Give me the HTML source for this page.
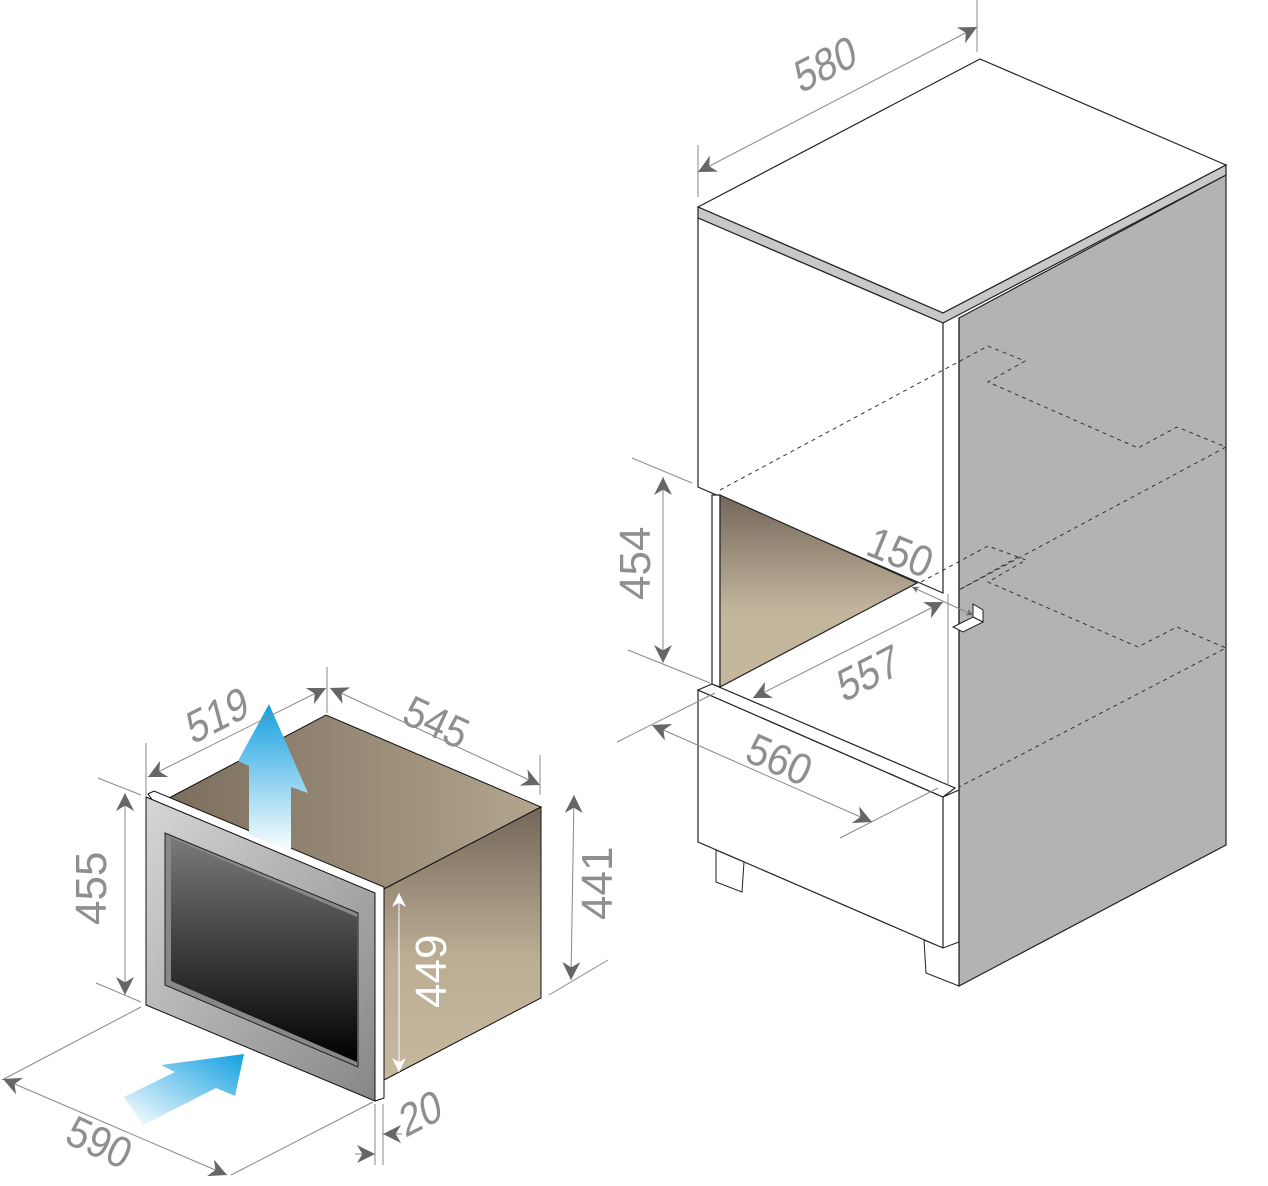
<!DOCTYPE html>
<html><head><meta charset="utf-8"><style>
html,body{margin:0;padding:0;background:#fff}
svg{display:block}
text{font-family:"Liberation Sans",sans-serif;fill:#8f8f8f;font-size:44px}
</style></head><body>
<svg width="1268" height="1186" viewBox="0 0 1268 1186" xmlns="http://www.w3.org/2000/svg">
<defs>
<linearGradient id="topG" x1="0" y1="0" x2="1" y2="0"><stop offset="0" stop-color="#7b6e5c"/><stop offset="1" stop-color="#b3a68f"/></linearGradient>
<linearGradient id="sideG" x1="0" y1="0" x2="0" y2="1"><stop offset="0" stop-color="#74675a"/><stop offset="0.55" stop-color="#bcae94"/><stop offset="1" stop-color="#c4b89f"/></linearGradient>
<linearGradient id="frameG" x1="0" y1="0" x2="1" y2="1"><stop offset="0" stop-color="#d6d6d6"/><stop offset="1" stop-color="#878787"/></linearGradient>
<linearGradient id="glassG" x1="0" y1="0" x2="0" y2="1"><stop offset="0" stop-color="#7a7a7a"/><stop offset="1" stop-color="#000"/></linearGradient>
<linearGradient id="upG" x1="0" y1="0" x2="0" y2="1"><stop offset="0" stop-color="#14a0e0"/><stop offset="1" stop-color="#ffffff"/></linearGradient>
<linearGradient id="rG" x1="0" y1="1" x2="1" y2="0"><stop offset="0" stop-color="#ffffff"/><stop offset="1" stop-color="#14a0e0"/></linearGradient>
<linearGradient id="cavG" x1="0" y1="0" x2="0" y2="1"><stop offset="0" stop-color="#74675a"/><stop offset="0.6" stop-color="#c2b59c"/><stop offset="1" stop-color="#c4b89f"/></linearGradient>
<marker id="a" viewBox="0 0 10 10" refX="10" refY="5" markerWidth="7" markerHeight="7" orient="auto-start-reverse" markerUnits="userSpaceOnUse"><path d="M0,0 L10,5 L0,10 L3,5 z" fill="#666"/></marker>
<marker id="aw" viewBox="0 0 10 10" refX="10" refY="5" markerWidth="14" markerHeight="14" orient="auto-start-reverse" markerUnits="userSpaceOnUse"><path d="M0,0 L10,5 L0,10 L3,5 z" fill="#fff"/></marker>
<marker id="as" viewBox="0 0 10 10" refX="10" refY="5" markerWidth="18" markerHeight="18" orient="auto-start-reverse" markerUnits="userSpaceOnUse"><path d="M0,0 L10,5 L0,10 L3,5 z" fill="#666"/></marker>
</defs>

<!-- ================= CABINET ================= -->
<g stroke="#222" stroke-width="1.2">
<polygon points="959,318 1226,175 1226,845 959,986" fill="#b3b3b3"/>
<polygon points="698,207 980,59 1226,165 943,313" fill="#fff"/>
<polygon points="698,207 943,313 1226,165 1226,175 943,323 698,218" fill="#c8c8c8"/>
<polygon points="698,218 943,323 943,593 698,487" fill="#fff"/>
<polygon points="698,690 943,797 943,948 698,842" fill="#fff"/>
<polygon points="698,690 712,684 955,788 943,797" fill="#fff"/>
<line x1="943" y1="797" x2="959" y2="790"/>
<polygon points="716,850 716,882 742,892 744,862" fill="#fff" stroke-width="1"/>
<polygon points="924,940 926,973 959,986 959,942 943,948" fill="#fff" stroke-width="1"/>
<polygon points="712,495 720,495 720,687 712,684" fill="#fff"/>
</g>
<polygon points="720,495 917,583 720,687" fill="url(#cavG)" stroke="#222" stroke-width="1.2"/>
<line x1="948" y1="594" x2="948" y2="785" stroke="#888" stroke-width="1"/>
<line x1="959" y1="318" x2="959" y2="986" stroke="#222" stroke-width="1.2"/>
<g stroke="#222" stroke-width="1" fill="#fff">
<polygon points="953,627 973,617 983,622 963,632"/>
<polygon points="973,617 973,604 983,610 983,622"/>
</g>
<g fill="none" stroke="#333" stroke-width="1" stroke-dasharray="4,4">
<polyline points="720,490 988,346 1025,361 988,382 1138,448 1177,427 1226,447 959,590"/>
<polyline points="921,582 988,546 1026,560 988,582 1138,647 1177,627 1226,648 959,787"/>
<line x1="959" y1="590" x2="1018" y2="557"/>
</g>

<g stroke="#888" stroke-width="1" fill="none">
<line x1="698" y1="145" x2="698" y2="197"/>
<line x1="977" y1="0" x2="977" y2="52"/>
<line x1="698" y1="172" x2="977" y2="27" marker-start="url(#as)" marker-end="url(#as)"/>
<line x1="632" y1="458" x2="692" y2="483"/>
<line x1="628" y1="650" x2="710" y2="683"/>
<line x1="663" y1="477" x2="663" y2="663" marker-start="url(#as)" marker-end="url(#as)"/>
<line x1="912" y1="587" x2="973" y2="615" marker-start="url(#a)" marker-end="url(#a)"/>
<line x1="943" y1="602" x2="753" y2="698" marker-start="url(#as)" marker-end="url(#as)"/>
<line x1="617" y1="742" x2="715" y2="693"/>
<line x1="840" y1="838" x2="938" y2="788"/>
<line x1="652" y1="725" x2="872" y2="822" marker-start="url(#as)" marker-end="url(#as)"/>
</g>
<text transform="translate(800,94) rotate(-27) skewX(-12) scale(0.9,1)" font-size="48">580</text>
<text transform="translate(650,600) rotate(-90)" font-size="44">454</text>
<text transform="translate(864,554) rotate(22) scale(0.9,1)" font-size="48">150</text>
<text transform="translate(843,703) rotate(-27) skewX(-12) scale(0.9,1)" font-size="48">557</text>
<text transform="translate(743,760) rotate(24) scale(0.9,1)" font-size="48">560</text>

<!-- ================= APPLIANCE ================= -->
<polygon points="169,798 326,715 541,807 382,890" fill="url(#topG)" stroke="#111" stroke-width="1"/>
<polygon points="382,890 541,807 541,998 384,1080" fill="url(#sideG)" stroke="#111" stroke-width="1"/>
<polygon points="148,794 154,791 384,887 384,1098 375,1101" fill="#fff" stroke="#111" stroke-width="1"/>
<polygon points="146,797 375,893 375,1101 146,1005" fill="url(#frameG)" stroke="#111" stroke-width="1"/>
<polygon points="165,833 358,913 358,1067 165,985" fill="#888" stroke="#222" stroke-width="1"/>
<polygon points="171,838 357,917 357,1062 171,981" fill="url(#glassG)"/>
<polygon points="269,704 238,761 249,766 249,835 291,852 291,787 308,793" fill="url(#upG)"/>
<polygon points="244,1054 161,1065 175,1072 124,1097 143,1125 216,1088 235,1096" fill="url(#rG)"/>

<g stroke="#888" stroke-width="1" fill="none">
<line x1="146" y1="743" x2="146" y2="797"/>
<line x1="327" y1="667" x2="327" y2="713"/>
<line x1="148" y1="777" x2="326" y2="688" marker-start="url(#as)" marker-end="url(#as)"/>
<line x1="540" y1="755" x2="540" y2="795"/>
<line x1="330" y1="688" x2="540" y2="785" marker-start="url(#as)" marker-end="url(#as)"/>
<line x1="98" y1="778" x2="141" y2="795"/>
<line x1="96" y1="983" x2="141" y2="1002"/>
<line x1="125" y1="793" x2="125" y2="995" marker-start="url(#as)" marker-end="url(#as)"/>
<line x1="549" y1="995" x2="608" y2="960"/>
<line x1="574" y1="795" x2="571" y2="980" marker-start="url(#as)" marker-end="url(#as)"/>
<line x1="141" y1="1007" x2="2" y2="1080"/>
<line x1="231" y1="1175" x2="373" y2="1102"/>
<line x1="3" y1="1079" x2="227" y2="1175" marker-start="url(#as)" marker-end="url(#as)"/>
<line x1="375" y1="1104" x2="375" y2="1165"/>
<line x1="383" y1="1104" x2="383" y2="1165"/>
<line x1="355" y1="1154" x2="375" y2="1154" marker-end="url(#as)"/>
<line x1="402" y1="1134" x2="383" y2="1134" marker-end="url(#as)"/>
</g>
<line x1="399" y1="893" x2="399" y2="1072" stroke="#fff" stroke-width="1" marker-start="url(#aw)" marker-end="url(#aw)"/>
<text transform="translate(192,745) rotate(-27) skewX(-12) scale(0.9,1)" font-size="48">519</text>
<text transform="translate(400,722) rotate(25) scale(0.9,1)" font-size="48">545</text>
<text transform="translate(106,925) rotate(-90)" font-size="44">455</text>
<text transform="translate(612,920) rotate(-90)" font-size="44">441</text>
<text transform="translate(446,1008) rotate(-90)" font-size="44" style="fill:#fff">449</text>
<text transform="translate(63,1142) rotate(25) scale(0.9,1)" font-size="48">590</text>
<text transform="translate(405,1138) rotate(-27) skewX(-12) scale(0.9,1)" font-size="48">20</text>
</svg>
</body></html>
